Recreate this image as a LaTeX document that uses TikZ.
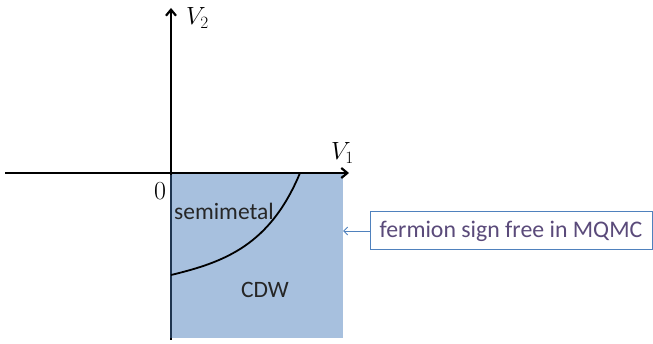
\documentclass[tikz,border=0pt]{standalone}
\usepackage{fontspec}
\setsansfont{Carlito}
\usetikzlibrary{arrows.meta}
\definecolor{regionblue}{HTML}{A7C0DE}
\definecolor{edgenavy}{HTML}{1F3550}
\definecolor{boxblue}{HTML}{4F81BD}
\definecolor{textpurple}{HTML}{5A4A7A}
\definecolor{darktext}{HTML}{262626}
\tikzset{
  axis/.style={line width=2.6pt, -{Straight Barb[length=6pt,width=10pt,line width=2.2pt]}},
  axislabel/.style={font=\fontsize{24}{28}\selectfont, inner sep=0pt},
  phaselabel/.style={font=\sffamily\fontsize{23.5}{28}\selectfont, text=darktext, inner sep=0pt},
  notebox/.style={draw=boxblue, line width=1pt, fill=white, font=\sffamily\fontsize{23.8}{28}\selectfont, text=textpurple, minimum width=282pt, minimum height=38pt, inner sep=0pt},
  noteline/.style={draw=boxblue, line width=0.9pt, -{Straight Barb[length=4pt,width=8pt,line width=0.9pt]}}
}
\begin{document}
\begin{tikzpicture}[x=1pt,y=1pt]
\useasboundingbox (0,0) rectangle (653,-344);
% region
\fill[regionblue] (171,-173) rectangle (343,-338);
% axes
\coordinate (hstart) at (5,-173);
\coordinate (hend) at (349,-173);
\coordinate (vstart) at (171,-340);
\coordinate (vend) at (171,-8);
\draw[axis] (hstart) -- (hend);
\draw[axis] (vstart) -- (vend);
\draw[edgenavy, line width=2.6pt] (171,-175) -- (171,-338);
% phase boundary
\coordinate (b1) at (300,-173);
\coordinate (b2) at (171,-275);
\draw[line width=1.8pt] (b1) .. controls (270,-245) and (225,-262) .. (b2);
% labels
\node[axislabel, anchor=base west] (v2) at (186,-25) {$V_2$};
\node[axislabel, anchor=base west] (v1) at (331,-160) {$V_1$};
\node[axislabel, font=\fontsize{26}{30}\selectfont, anchor=base] (zero) at (160,-200) {0};
\node[phaselabel] (semi) at (224,-211) {semimetal};
\node[phaselabel] (cdw) at (265,-290) {CDW};
% note
\node[notebox] (note) at (511,-231) {fermion sign free in MQMC};
\coordinate (notetip) at (343,-231);
\draw[noteline] (note.west) -- (notetip);
\end{tikzpicture}
\end{document}
